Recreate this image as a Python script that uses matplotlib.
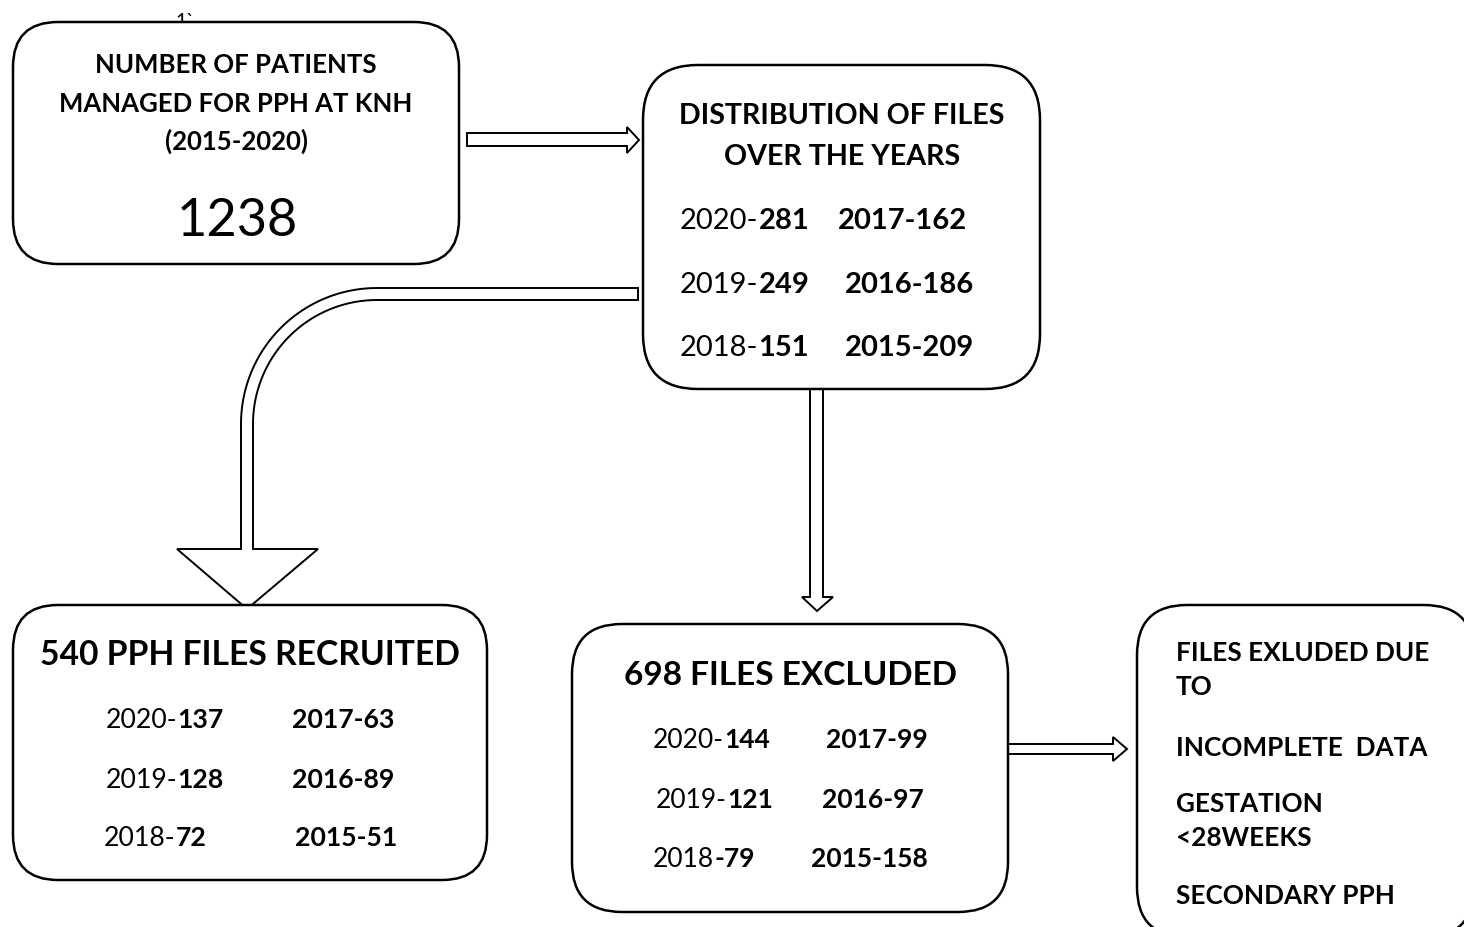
import numpy as np
import matplotlib
matplotlib.use("Agg")
import matplotlib.pyplot as plt
from matplotlib.patches import FancyBboxPatch, Polygon

# ---------------- data ----------------
total_patients = 1238
study_period = "(2015-2020)"
years_left = [2020, 2019, 2018]
years_right = [2017, 2016, 2015]
files_left = [281, 249, 151]
files_right = [162, 186, 209]
recruited_total = 540
recruited_left = [137, 128, 72]
recruited_right = [63, 89, 51]
excluded_total = 698
excluded_left = [144, 121, 79]
excluded_right = [99, 97, 158]
exclusion_reasons = ["FILES EXLUDED DUE", "TO", "INCOMPLETE  DATA",
                     "GESTATION", "<28WEEKS", "SECONDARY PPH"]

FONT = "Lato"
plt.rcParams['font.family'] = [FONT, 'DejaVu Sans']
GROW = 1.06  # Lato is wider than the original font: compromise between width and height

W, H = 1464, 928
fig = plt.figure(figsize=(W / 100, H / 100), dpi=100)
ax = fig.add_axes([0, 0, 1, 1])
ax.set_xlim(0, W)
ax.set_ylim(H, 0)
ax.axis('off')
fig.canvas.draw()
renderer = fig.canvas.get_renderer()


def fit_size(s, weight, width):
    t = ax.text(0, 0, s, fontsize=20, weight=weight)
    w = t.get_window_extent(renderer).width
    t.remove()
    return 20 * width / w * GROW


def rbox(x0, y0, x1, y1, r, lw=1.8):
    p = FancyBboxPatch((x0, y0), x1 - x0, y1 - y0,
                       boxstyle=f"round,pad=0,rounding_size={r}",
                       fc='white', ec='black', lw=lw, zorder=3)
    ax.add_patch(p)


def mixed(x, y, a, b, size, wa='normal', wb='bold'):
    t1 = ax.text(x, y, a, fontsize=size, weight=wa, va='baseline', ha='left', zorder=5)
    bb = t1.get_window_extent(renderer)
    x2 = ax.transData.inverted().transform((bb.x1, bb.y0))[0]
    ax.text(x2, y, b, fontsize=size, weight=wb, va='baseline', ha='left', zorder=5)


# stray mark above first box
ax.text(175, 27, "1`", fontsize=14, zorder=2)

# ---------------- arrows ----------------
alw = 1.4
ax.add_patch(Polygon([(467, 134), (627, 134), (627, 128), (639, 141), (627, 154),
                      (627, 147), (467, 147)], closed=True, fc='white', ec='black',
                     lw=alw, zorder=2))
ax.add_patch(Polygon([(810, 385), (823, 385), (823, 598), (833, 598), (817, 612),
                      (802, 598), (810, 598)], closed=True, fc='white', ec='black',
                     lw=alw, zorder=2))
ax.add_patch(Polygon([(1008, 745), (1113, 745), (1113, 738), (1127, 750), (1113, 762),
                      (1113, 755), (1008, 755)], closed=True, fc='white', ec='black',
                     lw=alw, zorder=2))
cx, cy, Ro, Ri = 377, 425, 136, 124
t = np.linspace(0, np.pi / 2, 40)
outer = np.column_stack([cx - Ro * np.sin(t), cy - Ro * np.cos(t)])
inner = np.column_stack([cx - Ri * np.sin(t), cy - Ri * np.cos(t)])[::-1]
pts = [(638, 289)] + [tuple(p) for p in outer] + [(241, 550), (177, 550), (247, 610),
                                                   (318, 550), (253, 550)] \
      + [tuple(p) for p in inner] + [(638, 301)]
ax.add_patch(Polygon(pts, closed=True, fc='white', ec='black', lw=alw, zorder=2))

# ---------------- boxes ----------------
rbox(13, 23, 459, 265, 45)
rbox(643, 66, 1040, 390, 55)
rbox(13, 606, 487, 881, 45)
rbox(572, 625, 1008, 913, 50)
rbox(1137, 606, 1474, 938, 50)

# ---------------- box 1 ----------------
s1 = fit_size("MANAGED FOR PPH AT KNH", 'bold', 333)
ax.text(236, 73, "NUMBER OF PATIENTS", fontsize=s1, weight='bold', ha='center', va='baseline', zorder=5)
ax.text(236, 112, "MANAGED FOR PPH AT KNH", fontsize=s1, weight='bold', ha='center', va='baseline', zorder=5)
ax.text(236, 150, study_period, fontsize=s1, weight='bold', ha='center', va='baseline', zorder=5)
sn = fit_size(str(total_patients), 'normal', 114)
ax.text(237, 236, str(total_patients), fontsize=sn, ha='center', va='baseline', zorder=5)

# ---------------- box 2 ----------------
s2 = fit_size("DISTRIBUTION OF FILES", 'bold', 308)
ax.text(842, 124, "DISTRIBUTION OF FILES", fontsize=s2, weight='bold', ha='center', va='baseline', zorder=5)
ax.text(842, 165, "OVER THE YEARS", fontsize=s2, weight='bold', ha='center', va='baseline', zorder=5)
r2 = fit_size("2017-162", 'bold', 122)
rows_y2 = [229, 293, 356]
right_x2 = [838, 845, 845]
for i in range(3):
    mixed(680, rows_y2[i], f"{years_left[i]}-", f"{files_left[i]}", r2)
    ax.text(right_x2[i], rows_y2[i], f"{years_right[i]}-{files_right[i]}", fontsize=r2,
            weight='bold', va='baseline', zorder=5)

# ---------------- box 3 ----------------
s3 = fit_size(f"{recruited_total} PPH FILES RECRUITED", 'bold', 396)
ax.text(250, 665, f"{recruited_total} PPH FILES RECRUITED", fontsize=s3, weight='bold',
        ha='center', va='baseline', zorder=5)
r3 = fit_size("2017-63", 'bold', 97)
rows_y3 = [728, 788, 846]
left_x3 = [106, 106, 104]
right_x3 = [292, 292, 295]
for i in range(3):
    mixed(left_x3[i], rows_y3[i], f"{years_left[i]}-", f"{recruited_left[i]}", r3)
    ax.text(right_x3[i], rows_y3[i], f"{years_right[i]}-{recruited_right[i]}", fontsize=r3,
            weight='bold', va='baseline', zorder=5)

# ---------------- box 4 ----------------
s4 = fit_size(f"{excluded_total} FILES EXCLUDED", 'bold', 315)
ax.text(790, 685, f"{excluded_total} FILES EXCLUDED", fontsize=s4, weight='bold',
        ha='center', va='baseline', zorder=5)
r4 = fit_size("2017-99", 'bold', 96)
rows_y4 = [748, 808, 867]
left_x4 = [653, 656, 653]
right_x4 = [826, 822, 811]
for i in range(3):
    if i == 2:
        mixed(left_x4[i], rows_y4[i], f"{years_left[i]}", f"-{excluded_left[i]}", r4)
    else:
        mixed(left_x4[i], rows_y4[i], f"{years_left[i]}-", f"{excluded_left[i]}", r4)
    ax.text(right_x4[i], rows_y4[i], f"{years_right[i]}-{excluded_right[i]}", fontsize=r4,
            weight='bold', va='baseline', zorder=5)

# ---------------- box 5 ----------------
s5 = fit_size(exclusion_reasons[0], 'bold', 238)
rows_y5 = [661, 695, 756, 812, 846, 904]
for s, y in zip(exclusion_reasons, rows_y5):
    ax.text(1176, y, s, fontsize=s5, weight='bold', va='baseline', zorder=5)

fig.savefig("out.png", dpi=100)
